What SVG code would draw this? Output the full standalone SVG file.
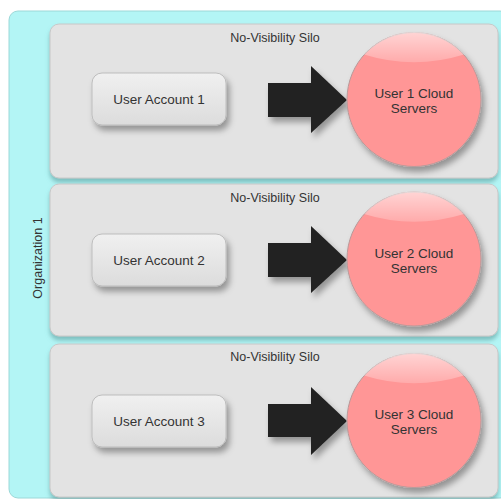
<svg xmlns="http://www.w3.org/2000/svg" width="501" height="499" viewBox="0 0 501 499">
<style>
.org{fill:#b3f5f5;stroke:#9cd8d8;stroke-width:1}
.silo{fill:#e3e3e3;stroke:#c8c8c8;stroke-width:1}
.acct{fill:url(#gAcct);stroke:#bdbdbd;stroke-width:1}
.srv{fill:#ff9696;stroke:#b89a9a;stroke-width:1}
.arrow{fill:#222}
text{font-family:"Liberation Sans",Arial,sans-serif;fill:#333}
.t12{font-size:12.5px}
.t13{font-size:13.5px}
</style>
<defs>
<linearGradient id="gAcct" x1="0" y1="0" x2="0" y2="1">
<stop offset="0" stop-color="#f0f0f0"/><stop offset="1" stop-color="#dcdcdc"/>
</linearGradient>
<linearGradient id="gGloss" x1="0" y1="0" x2="0" y2="1">
<stop offset="0" stop-color="#ffffff" stop-opacity="0.6"/><stop offset="1" stop-color="#ffffff" stop-opacity="0.2"/>
</linearGradient>
<filter id="sh" x="-20%" y="-20%" width="150%" height="150%">
<feDropShadow dx="3" dy="5" stdDeviation="3" flood-color="#000" flood-opacity="0.35"/>
</filter>
<filter id="shs" x="-10%" y="-10%" width="130%" height="130%">
<feDropShadow dx="0" dy="4" stdDeviation="2" flood-color="#4a8a8a" flood-opacity="0.5"/>
</filter>
</defs>
<g id="org1">
<rect class="org" x="9" y="11" width="500" height="487" rx="9"/>
<text class="t12" transform="translate(42,258) rotate(-90)" text-anchor="middle">Organization 1</text>
</g>
<g id="silo1">
<rect class="silo" x="50" y="24" width="448" height="154" rx="9" filter="url(#shs)"/>
<text class="t12" x="275" y="42" text-anchor="middle">No-Visibility Silo</text>
</g>
<g id="silo2">
<rect class="silo" x="50" y="184" width="448" height="152" rx="9" filter="url(#shs)"/>
<text class="t12" x="275" y="202" text-anchor="middle">No-Visibility Silo</text>
</g>
<g id="silo3">
<rect class="silo" x="50" y="344" width="448" height="153" rx="9" filter="url(#shs)"/>
<text class="t12" x="275" y="361" text-anchor="middle">No-Visibility Silo</text>
</g>
<g id="acct1">
<rect class="acct" x="92" y="73" width="134" height="52" rx="10" filter="url(#sh)"/>
<text class="t13" x="159" y="104" text-anchor="middle">User Account 1</text>
</g>
<g id="acct2">
<rect class="acct" x="92" y="234" width="134" height="52" rx="10" filter="url(#sh)"/>
<text class="t13" x="159" y="265" text-anchor="middle">User Account 2</text>
</g>
<g id="acct3">
<rect class="acct" x="92" y="395" width="134" height="52" rx="10" filter="url(#sh)"/>
<text class="t13" x="159" y="426" text-anchor="middle">User Account 3</text>
</g>
<g id="connectors">
<path class="arrow" filter="url(#sh)" d="M268,83 H311 V66 L347,100 L311,133 V117 H268 Z"/>
<path class="arrow" filter="url(#sh)" d="M268,243 H311 V226 L347,260 L311,293 V277 H268 Z"/>
<path class="arrow" filter="url(#sh)" d="M268,404 H311 V387 L347,421 L311,455 V437 H268 Z"/>
</g>
<g id="srv1">
<circle class="srv" cx="414" cy="99.5" r="67" filter="url(#sh)"/>
<path d="M364,54.5 A67,67 0 0 1 464,54.5 Q414,70 364,54.5 Z" fill="url(#gGloss)"/>
<text class="t13" x="414" y="98" text-anchor="middle">User 1 Cloud</text>
<text class="t13" x="414" y="113" text-anchor="middle">Servers</text>
</g>
<g id="srv2">
<circle class="srv" cx="414" cy="259" r="67" filter="url(#sh)"/>
<path d="M364,214 A67,67 0 0 1 464,214 Q414,229.5 364,214 Z" fill="url(#gGloss)"/>
<text class="t13" x="414" y="258" text-anchor="middle">User 2 Cloud</text>
<text class="t13" x="414" y="273" text-anchor="middle">Servers</text>
</g>
<g id="srv3">
<circle class="srv" cx="414" cy="420.5" r="67" filter="url(#sh)"/>
<path d="M364,375.5 A67,67 0 0 1 464,375.5 Q414,391 364,375.5 Z" fill="url(#gGloss)"/>
<text class="t13" x="414" y="419" text-anchor="middle">User 3 Cloud</text>
<text class="t13" x="414" y="434" text-anchor="middle">Servers</text>
</g>
</svg>
